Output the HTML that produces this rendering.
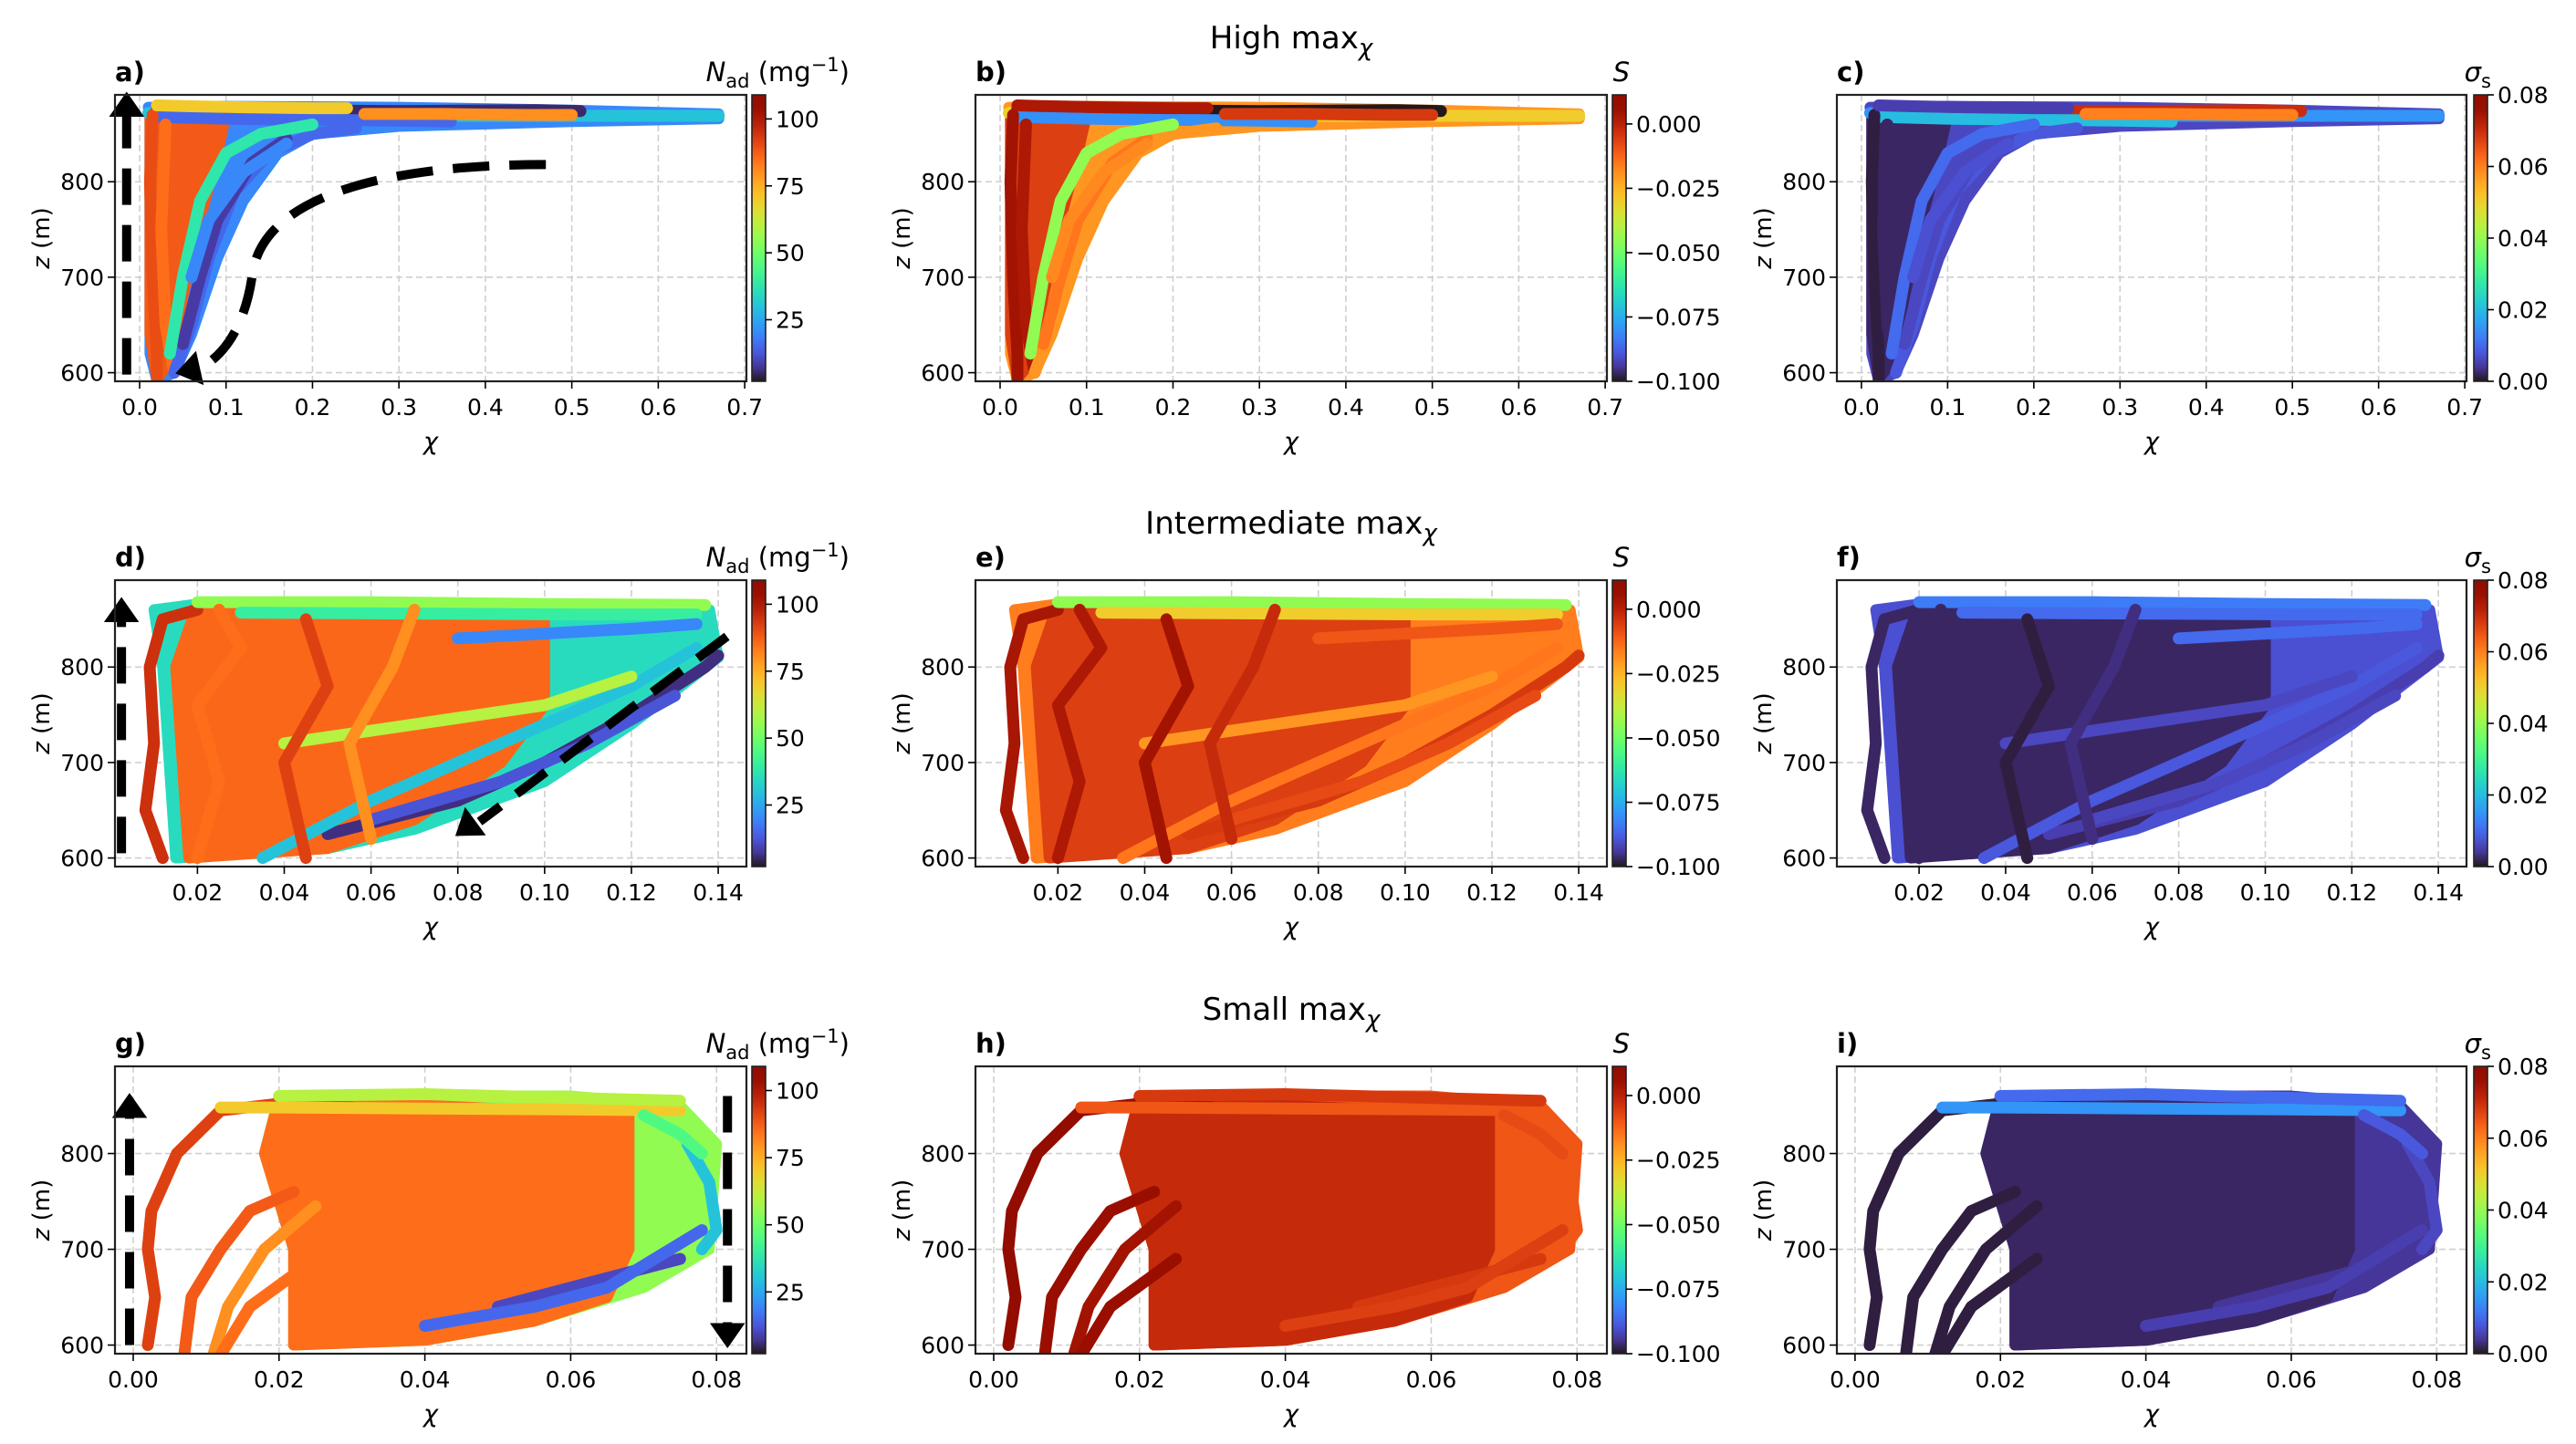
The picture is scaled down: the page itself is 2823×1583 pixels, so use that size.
<!DOCTYPE html>
<html><head><meta charset="utf-8"><style>
html,body{margin:0;padding:0;background:#fff;}
svg{display:block;font-family:"DejaVu Sans","Liberation Sans",sans-serif;}
</style></head><body>
<svg id="fig" width="2823" height="1583" viewBox="0 0 2823 1583" xmlns="http://www.w3.org/2000/svg"></svg>
<script>
// ---------- data ----------
const rowTitles = ["High max", "Intermediate max", "Small max"];
const panelLetters = [["a)","b)","c)"],["d)","e)","f)"],["g)","h)","i)"]];
const xTicksR0 = [0,0.1,0.2,0.3,0.4,0.5,0.6,0.7];
const xTickLabelsR0 = ["0.0","0.1","0.2","0.3","0.4","0.5","0.6","0.7"];
const xTicksR1 = [0.02,0.04,0.06,0.08,0.10,0.12,0.14];
const xTickLabelsR1 = ["0.02","0.04","0.06","0.08","0.10","0.12","0.14"];
const xTicksR2 = [0,0.02,0.04,0.06,0.08];
const xTickLabelsR2 = ["0.00","0.02","0.04","0.06","0.08"];
const yTicks = [600,700,800];
const yTickLabels = ["600","700","800"];
const cbTicksN = [25,50,75,100];
const cbLabelsN = ["25","50","75","100"];
const cbTicksS = [0,-0.025,-0.05,-0.075,-0.1];
const cbLabelsS = ["0.000","\u22120.025","\u22120.050","\u22120.075","\u22120.100"];
const cbTicksSig = [0,0.02,0.04,0.06,0.08];
const cbLabelsSig = ["0.00","0.02","0.04","0.06","0.08"];

// Envelopes (dense bundles): chi, z, and colour values [Nad, S, sigma]
const env0OuterChi = [0.012,0.012,0.02,0.04,0.06,0.09,0.12,0.16,0.2,0.3,0.5,0.67,0.67,0.5,0.3,0.1,0.01];
const env0OuterZ   = [870,620,592,600,640,720,780,830,850,858,863,866,871,875,878,879,878];
const env0OuterVal = [20,-0.02,0.006];
const env0InnerChi = [0.012,0.012,0.02,0.035,0.05,0.07,0.09,0.1,0.02];
const env0InnerZ   = [870,640,594,610,680,760,830,870,876];
const env0InnerVal = [88,-0.006,0.002];
const env1OuterChi = [0.012,0.015,0.05,0.07,0.10,0.12,0.14,0.138,0.02,0.01];
const env1OuterZ   = [800,600,610,630,680,740,810,860,866,860];
const env1OuterVal = [35,-0.016,0.007];
const env1InnerChi = [0.015,0.018,0.05,0.07,0.09,0.10,0.10,0.02];
const env1InnerZ   = [800,600,610,640,700,760,860,866];
const env1InnerVal = [86,-0.006,0.002];
const env2OuterChi = [0.022,0.04,0.055,0.07,0.079,0.08,0.075,0.06,0.02,0.018,0.022];
const env2OuterZ   = [600,605,625,660,700,810,850,860,860,800,700];
const env2OuterVal = [55,-0.01,0.004];
const env2InnerChi = [0.022,0.04,0.055,0.065,0.068,0.068,0.02,0.018,0.022];
const env2InnerZ   = [600,605,625,650,700,840,858,800,700];
const env2InnerVal = [85,-0.002,0.002];

// Trajectories per row: chi arrays, z arrays, and values (Nad, S, sigma)
const traj0Chi = [
 [0.01,0.1,0.3,0.5,0.67],[0.02,0.15,0.3,0.46,0.51],[0.02,0.1,0.2,0.3,0.36],
 [0.015,0.012,0.015,0.02,0.02],[0.03,0.025,0.03,0.04],[0.04,0.06,0.08,0.11,0.15,0.2,0.25],
 [0.05,0.07,0.09,0.13,0.17],[0.035,0.05,0.07,0.1,0.14,0.2],[0.02,0.06,0.12,0.2,0.24],
 [0.06,0.08,0.12,0.17],[0.26,0.35,0.45,0.5]];
const traj0Z = [
 [872,870,869,869,869],[876,875,874,875,874],[868,866,865,864,863],
 [870,800,700,620,592],[860,750,650,600],[600,650,720,790,830,850,856],
 [630,700,760,820,845],[620,700,780,830,850,860],[880,879,878,877,877],
 [700,760,810,840],[871,871,870,870]];
const traj0Nad = [30,5,15,90,85,15,8,38,70,20,80];
const traj0S   = [-0.03,-0.1,-0.08,0.004,0.002,-0.02,-0.015,-0.045,0.002,-0.018,-0.005];
const traj0Sig = [0.015,0.07,0.02,0.001,0.002,0.008,0.006,0.01,0.005,0.007,0.06];

const traj1Chi = [
 [0.012,0.008,0.01,0.009,0.012,0.02],[0.02,0.06,0.1,0.137],[0.03,0.07,0.11,0.135],
 [0.05,0.08,0.1,0.12,0.137,0.14],[0.06,0.09,0.11,0.13],[0.035,0.06,0.09,0.12,0.135],
 [0.04,0.07,0.1,0.12],[0.02,0.025,0.02,0.03,0.025],[0.045,0.04,0.05,0.045],
 [0.06,0.055,0.065,0.07],[0.08,0.1,0.12,0.135]];
const traj1Z = [
 [600,650,720,800,850,860],[868,868,866,865],[857,856,855,855],
 [625,660,700,750,800,812],[640,680,720,770],[600,660,720,780,820],
 [720,740,760,790],[600,680,760,820,860],[600,700,780,850],
 [620,720,800,860],[830,835,840,845]];
const traj1Nad = [95,55,40,6,12,30,60,85,92,80,20];
const traj1S   = [0.003,-0.045,-0.03,-0.005,-0.008,-0.015,-0.02,0.002,0.004,-0.002,-0.01];
const traj1Sig = [0.002,0.012,0.01,0.005,0.006,0.008,0.006,0.002,0.001,0.003,0.01];

const traj2Chi = [
 [0.002,0.003,0.002,0.0025,0.006,0.012,0.02,0.03],[0.007,0.008,0.012,0.016,0.022],
 [0.011,0.013,0.018,0.025],[0.012,0.016,0.025],[0.012,0.02,0.04,0.06,0.075],
 [0.02,0.04,0.06,0.075],[0.076,0.079,0.08,0.078],[0.05,0.06,0.07,0.075],
 [0.04,0.055,0.065,0.078],[0.07,0.075,0.078]];
const traj2Z = [
 [600,650,700,740,800,845,852,848],[590,650,700,740,760],
 [590,640,700,745],[590,640,690],[848,848,847,846,845],
 [860,862,858,855],[810,770,720,700],[640,660,680,690],
 [620,640,660,720],[840,820,800]];
const traj2Nad = [92,88,80,85,70,60,30,10,15,45];
const traj2S   = [0.008,0.006,0.004,0.006,-0.01,-0.005,-0.01,-0.005,-0.006,-0.008];
const traj2Sig = [0.001,0.001,0.001,0.001,0.015,0.01,0.006,0.004,0.005,0.008];

// ---------- layout ----------
const cols = [{l:126,r:818,cb:824},{l:1069,r:1761,cb:1767},{l:2013,r:2703,cb:2711}];
const rows = [{t:104,b:418},{t:636,b:950},{t:1169,b:1484}];
const xLims = [[-0.0285,0.702],[0.001,0.1465],[-0.0025,0.0841]];
const yLim = [591,891];
const cbRanges = [[2,109],[-0.1,0.0113],[0,0.08]];
const xTicksAll = [xTicksR0,xTicksR1,xTicksR2];
const xLabAll = [xTickLabelsR0,xTickLabelsR1,xTickLabelsR2];
const cbTicksAll = [cbTicksN,cbTicksS,cbTicksSig];
const cbLabAll = [cbLabelsN,cbLabelsS,cbLabelsSig];
const envs = [
 [[env0OuterChi,env0OuterZ,env0OuterVal],[env0InnerChi,env0InnerZ,env0InnerVal]],
 [[env1OuterChi,env1OuterZ,env1OuterVal],[env1InnerChi,env1InnerZ,env1InnerVal]],
 [[env2OuterChi,env2OuterZ,env2OuterVal],[env2InnerChi,env2InnerZ,env2InnerVal]]];
const trajs = [
 [traj0Chi,traj0Z,[traj0Nad,traj0S,traj0Sig]],
 [traj1Chi,traj1Z,[traj1Nad,traj1S,traj1Sig]],
 [traj2Chi,traj2Z,[traj2Nad,traj2S,traj2Sig]]];

const NS="http://www.w3.org/2000/svg";
const svg=document.getElementById('fig');
function mk(tag,attrs,parent){const e=document.createElementNS(NS,tag);for(const k in attrs)e.setAttribute(k,attrs[k]);(parent||svg).appendChild(e);return e;}
function turbo(t){t=Math.max(0,Math.min(1,t));
 const r=0.13572138+t*(4.61539260+t*(-42.66032258+t*(132.13108234+t*(-152.94239396+t*59.28637943))));
 const g=0.09140261+t*(2.19418839+t*(4.84296658+t*(-14.18503333+t*(4.27729857+t*2.82956604))));
 const b=0.10667330+t*(12.64194608+t*(-60.58204836+t*(110.36276771+t*(-89.90310912+t*27.34824973))));
 const c=v=>Math.round(255*Math.max(0,Math.min(1,v)));return `rgb(${c(r)},${c(g)},${c(b)})`;}

const defs=mk('defs',{});
const grad=mk('linearGradient',{id:'turboGrad',x1:0,y1:1,x2:0,y2:0},defs);
for(let i=0;i<=20;i++){mk('stop',{offset:(i/20),'stop-color':turbo(i/20)},grad);}
for(let r=0;r<3;r++)for(let c=0;c<3;c++){
 const cp=mk('clipPath',{id:`clip${r}${c}`},defs);
 mk('rect',{x:cols[c].l,y:rows[r].t,width:cols[c].r-cols[c].l,height:rows[r].b-rows[r].t},cp);
}

rowTitles.forEach((t,r)=>{
 const tx=mk('text',{x:1415,y:[53,585,1118][r],'font-size':34,'text-anchor':'middle',fill:'#000'});
 
 
 tx.textContent=t;
 const sub=mk('tspan',{dy:8,'font-size':26,'font-style':'italic'},tx);sub.textContent='\u03c7';
});

for(let r=0;r<3;r++){for(let c=0;c<3;c++){
 const L=cols[c].l,R=cols[c].r,T=rows[r].t,B=rows[r].b;
 const xl=xLims[r];
 const X=v=>L+(v-xl[0])/(xl[1]-xl[0])*(R-L);
 const Y=v=>B-(v-yLim[0])/(yLim[1]-yLim[0])*(B-T);
 const cr=cbRanges[c];
 const col=v=>turbo((v-cr[0])/(cr[1]-cr[0]));
 const g=mk('g',{});
 
 
 const grid=mk('g',{stroke:'#cfcfcf','stroke-width':1.6,'stroke-dasharray':'7,4'},g);
 
 
 xTicksAll[r].forEach(v=>mk('line',{x1:X(v),x2:X(v),y1:T,y2:B},grid));
 yTicks.forEach(v=>mk('line',{x1:L,x2:R,y1:Y(v),y2:Y(v)},grid));
 const dg=mk('g',{'clip-path':`url(#clip${r}${c})`},g);
 
 
 envs[r].forEach((e,i)=>{
  const pts=e[0].map((v,k)=>X(v)+','+Y(e[1][k])).join(' ');
  const p=mk('polygon',{points:pts,fill:col(e[2][c]),stroke:col(e[2][c]),'stroke-width':12,'stroke-linejoin':'round'},dg);
  
  
 });
 const tr=trajs[r];
 tr[0].forEach((xs,k)=>{
  const pts=xs.map((v,j)=>X(v)+','+Y(tr[1][k][j])).join(' ');
  const pl=mk('polyline',{points:pts,fill:'none',stroke:col(tr[2][c][k]),'stroke-width':13,'stroke-linecap':'round','stroke-linejoin':'round'},dg);
  
  
 });
 if(c===0){
  const ag=mk('g',{stroke:'#000','stroke-width':10,fill:'none','stroke-dasharray':'40,22'},g);
  
  
  const head=(x,y,ang)=>{const s=22;const a=ang;const p=[[x,y],[x-s*Math.cos(a)+s*0.7*Math.sin(a),y-s*Math.sin(a)-s*0.7*Math.cos(a)],[x-s*Math.cos(a)-s*0.7*Math.sin(a),y-s*Math.sin(a)+s*0.7*Math.cos(a)]];
   mk('polygon',{points:p.map(q=>q.join(',')).join(' '),fill:'#000',stroke:'#000','stroke-width':4,'stroke-dasharray':'none'},g);};
  if(r===0){
   mk('line',{x1:X(-0.015),y1:Y(598),x2:X(-0.015),y2:Y(875)},ag);head(X(-0.015),Y(891),-Math.PI/2);
   mk('path',{d:`M${X(0.47)},${Y(818)} C${X(0.3)},${Y(818)} ${X(0.14)},${Y(790)} ${X(0.13)},${Y(700)} C${X(0.12)},${Y(640)} ${X(0.09)},${Y(612)} ${X(0.065)},${Y(603)}`},ag);
   head(X(0.045),Y(600),Math.PI*0.93);
  } else if(r===1){
   mk('line',{x1:X(0.0025),y1:Y(605),x2:X(0.0025),y2:Y(855)},ag);head(X(0.0025),Y(870),-Math.PI/2);
   mk('line',{x1:X(0.142),y1:Y(832),x2:X(0.085),y2:Y(638)},ag);
   const a=Math.atan2(Y(625)-Y(832),X(0.08)-X(0.142));head(X(0.08),Y(625),a);
  } else {
   mk('line',{x1:X(-0.0005),y1:Y(600),x2:X(-0.0005),y2:Y(845)},ag);head(X(-0.0005),Y(860),-Math.PI/2);
   mk('line',{x1:X(0.0815),y1:Y(860),x2:X(0.0815),y2:Y(615)},ag);head(X(0.0815),Y(600),Math.PI/2);
  }
 }
 const fr=mk('rect',{x:L,y:T,width:R-L,height:B-T,fill:'none',stroke:'#222','stroke-width':2.2},g);
 
 
 xTicksAll[r].forEach((v,i)=>{
  mk('line',{x1:X(v),x2:X(v),y1:B,y2:B+8,stroke:'#000','stroke-width':1.6},g);
  const t=mk('text',{x:X(v),y:B+37,'font-size':25,'text-anchor':'middle'},g);
  
  
  t.textContent=xLabAll[r][i];
 });
 yTicks.forEach((v,i)=>{
  mk('line',{x1:L-8,x2:L,y1:Y(v),y2:Y(v),stroke:'#000','stroke-width':1.6},g);
  const t=mk('text',{x:L-12,y:Y(v)+9,'font-size':25,'text-anchor':'end'},g);
  
  
  t.textContent=yTickLabels[i];
 });
 const xlab=mk('text',{x:(L+R)/2,y:B+75,'font-size':27,'font-style':'italic','text-anchor':'middle'},g);
 
 
 xlab.textContent='\u03c7';
 const ylab=mk('text',{x:0,y:0,'font-size':26,'text-anchor':'middle',transform:`translate(${L-72},${(T+B)/2}) rotate(-90)`},g);
 
 
 const zi=mk('tspan',{'font-style':'italic'},ylab);zi.textContent='z';
 const zr=mk('tspan',{},ylab);zr.textContent=' (m)';
 const pl=mk('text',{x:L,y:T-15,'font-size':29,'font-weight':'bold'},g);
 
 
 pl.textContent=panelLetters[r][c];
 const cbx=cols[c].cb,cbw=15;
 const cbr=mk('rect',{x:cbx,y:T,width:cbw,height:B-T,fill:'url(#turboGrad)',stroke:'#222','stroke-width':1.6},g);
 
 
 const CY=v=>B-(v-cr[0])/(cr[1]-cr[0])*(B-T);
 cbTicksAll[c].forEach((v,i)=>{
  mk('line',{x1:cbx+cbw,x2:cbx+cbw+7,y1:CY(v),y2:CY(v),stroke:'#000','stroke-width':1.6},g);
  const t=mk('text',{x:cbx+cbw+11,y:CY(v)+9,'font-size':25},g);
  
  
  t.textContent=cbLabAll[c][i];
 });
 const cl=mk('text',{x:cbx+cbw+(c===0?92:4),y:T-15,'font-size':29,'text-anchor':'end'},g);
 
 
 if(c===0){const a=mk('tspan',{'font-style':'italic'},cl);a.textContent='N';
  const b=mk('tspan',{dy:7,'font-size':21},cl);b.textContent='ad';
  const d=mk('tspan',{dy:-7},cl);d.textContent=' (mg';
  const e=mk('tspan',{dy:-11,'font-size':21},cl);e.textContent='\u22121';
  const f=mk('tspan',{dy:11},cl);f.textContent=')';}
 else if(c===1){const a=mk('tspan',{'font-style':'italic'},cl);a.textContent='S';}
 else {const a=mk('tspan',{'font-style':'italic'},cl);a.textContent='\u03c3';
  const b=mk('tspan',{dy:7,'font-size':21},cl);b.textContent='s';}
}}
</script>
</body></html>
